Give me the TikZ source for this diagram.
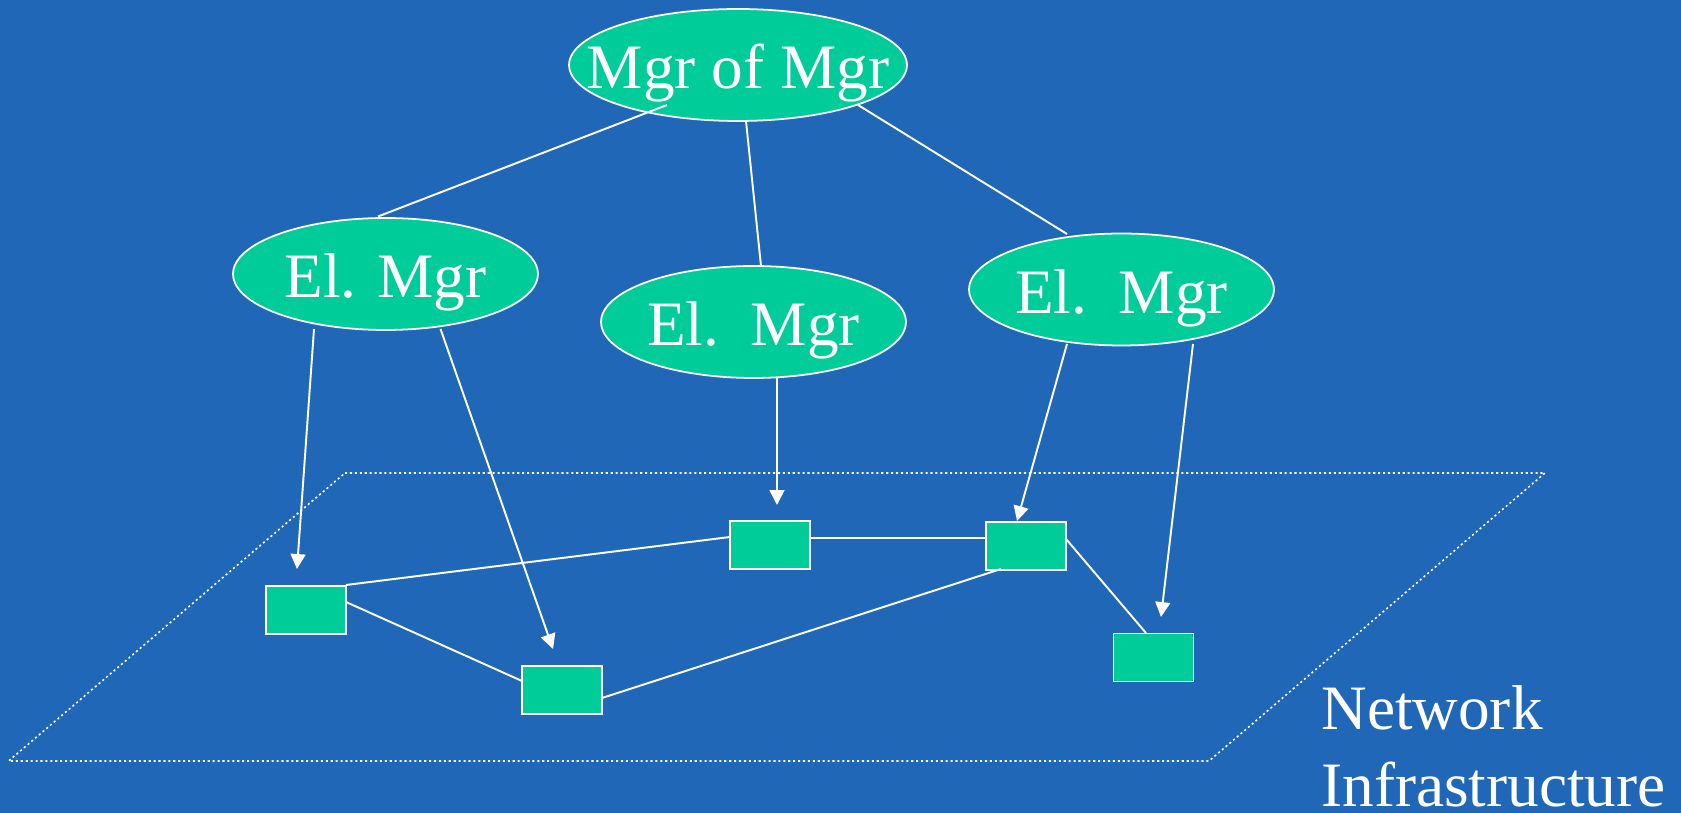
\documentclass[tikz,border=0pt]{standalone}
\usepackage{fontspec}
\setmainfont{Liberation Serif}
\usetikzlibrary{shapes.geometric,arrows.meta,calc}
\definecolor{slideblue}{RGB}{33,103,184}
\definecolor{mgrgreen}{RGB}{0,204,153}
% label of a manager: an empty box, so the ellipse keeps its own size;
% the baseline sits a little below the ellipse centre
\newcommand{\mgrlabel}[1]{\makebox[0pt]{\raisebox{-13.5pt}[0pt][0pt]{#1}}}
\tikzset{
  mgr/.style={ellipse, draw=white, line width=1pt, fill=mgrgreen, text=white,
    minimum width=6.1cm, minimum height=2.24cm, inner sep=0pt,
    font=\fontsize{36}{43}\selectfont},
  topmgr/.style={mgr, minimum width=6.76cm},
  device/.style={rectangle, draw=white, line width=1pt, fill=mgrgreen,
    minimum width=1.6cm, minimum height=0.96cm, inner sep=0pt},
  link/.style={draw=white, line width=1.1pt},
  manages/.style={link, -{Triangle[length=8.5pt,width=8.5pt]}},
  netplane/.style={draw=white, line width=0.9pt, dash pattern=on 1.2pt off 1.6pt},
  caption/.style={text=white, anchor=base west, inner sep=0pt, text depth=0pt,
    font=\fontsize{36}{43}\selectfont}
}
\begin{document}
\begin{tikzpicture}[x=0.02cm, y=-0.02cm]
  % background
  \fill[slideblue] (0,0) rectangle (1681,813);
  \useasboundingbox (0,0) rectangle (1681,813);

  % network plane
  \coordinate (p1) at (345,473);
  \coordinate (p2) at (1545,473);
  \coordinate (p3) at (1209,761);
  \coordinate (p4) at (8.6,761);
  \draw[netplane] (p1) -- (p2) -- (p3) -- (p4) -- cycle;

  % managers
  \node[topmgr] (top) at (738,65) {\mgrlabel{Mgr of Mgr}};
  \node[mgr] (elL) at (385.5,274) {\mgrlabel{El. Mgr}};
  \node[mgr] (elM) at (753.5,322) {\mgrlabel{El.\ \ Mgr}};
  \node[mgr] (elR) at (1121.5,289.5) {\mgrlabel{El.\ \ Mgr}};

  % network elements
  \node[device] (R1) at (306,610) {};
  \node[device] (R2) at (562,690) {};
  \node[device] (R3) at (770,545) {};
  \node[device] (R4) at (1026,546) {};
  \node[device] (R5) at (1153.5,657.5) {};

  % manager hierarchy
  \draw[link] ($(top)+(-71,40)$) -- ($(elL)+(-7.5,-57.5)$);
  \draw[link] ($(top)+(8,56)$) -- ($(elM)+(7.5,-56)$);
  \draw[link] ($(top)+(120,40)$) -- ($(elR)+(-54.5,-55.5)$);

  % management relations
  \draw[manages] ($(elL)+(-71.5,55)$) -- ($(R1)+(-9,-41)$);
  \draw[manages] ($(elL)+(55,55)$) -- ($(R2)+(-9,-41)$);
  \draw[manages] ($(elM)+(23.5,56)$) -- ($(R3)+(7,-40)$);
  \draw[manages] ($(elR)+(-54.5,54.5)$) -- ($(R4)+(-9,-25)$);
  \draw[manages] ($(elR)+(71.5,54.5)$) -- ($(R5)+(7.5,-40.5)$);

  % physical links
  \draw[link] ($(R1)+(40,-25)$) -- ($(R3)+(-40,-8)$);
  \draw[link] ($(R1)+(40,-8)$) -- ($(R2)+(-40,-9)$);
  \draw[link] ($(R2)+(40,8)$) -- ($(R4)+(-25,23)$);
  \draw[link] ($(R3)+(40,-7)$) -- ($(R4)+(-40,-8)$);
  \draw[link] ($(R4)+(40,-7)$) -- ($(R5)+(-7.5,-24.5)$);

  % label
  \node[caption] (lab1) at (1321,730) {Network};
  \node[caption] (lab2) at (1321,807) {Infrastructure};
\end{tikzpicture}
\end{document}
